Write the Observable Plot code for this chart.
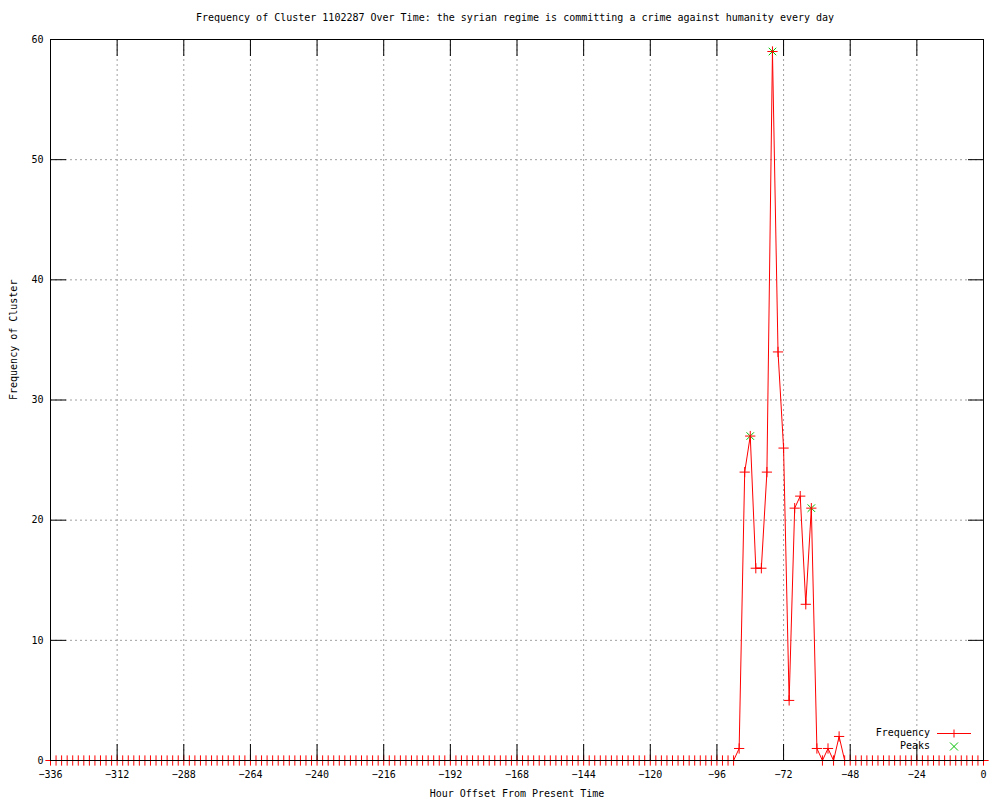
<!DOCTYPE html>
<html>
<head>
<meta charset="utf-8">
<script src="https://cdn.jsdelivr.net/npm/d3@7"></script>
<script src="https://cdn.jsdelivr.net/npm/@observablehq/plot@0.6"></script>
<style>
  html, body { margin: 0; padding: 0; background: #fff; }
  #wrap { position: relative; width: 1000px; height: 800px; font-family: "DejaVu Sans Mono", monospace; font-size: 10px; color: #000; }
  #title { height: 30px; box-sizing: border-box; padding-top: 12px; padding-left: 30px; line-height: 12px; text-align: center; white-space: nowrap; }
  .leg { position: absolute; line-height: 12px; white-space: nowrap; }
  .legtxt { left: 800px; width: 130px; text-align: right; }
</style>
</head>
<body>
<div id="wrap">
  <div id="title"></div>
  <div id="chart"></div>
  <div class="leg legtxt" id="leg1" style="top:727px;"></div>
  <svg class="leg" style="left:936px; top:727px;" width="36" height="12">
    <line x1="1" x2="35" y1="6.5" y2="6.5" stroke="#ff0000" stroke-width="1"/>
    <line x1="18" x2="18" y1="2.5" y2="10.5" stroke="#ff0000" stroke-width="1"/>
  </svg>
  <div class="leg legtxt" id="leg2" style="top:740px;"></div>
  <svg class="leg" style="left:948px; top:740px;" width="12" height="12">
    <line x1="2" x2="10" y1="2.5" y2="10.5" stroke="#00c000" stroke-width="1"/>
    <line x1="2" x2="10" y1="10.5" y2="2.5" stroke="#00c000" stroke-width="1"/>
  </svg>
</div>
<script>
const titleText = "Frequency of Cluster 1102287 Over Time: the syrian regime is committing a crime against humanity every day";
const xLabel = "Hour Offset From Present Time";
const yLabel = "Frequency of Cluster";
const seriesNames = ["Frequency", "Peaks"];

// hour offsets (every 2 hours)
const hours = d3.range(-336, 1, 2);

// frequency per 2-hour bin, from -336 to 0
const counts = [
  0,0,0,0,0,0,0,0,0,0,0,0,   // -336 .. -314
  0,0,0,0,0,0,0,0,0,0,0,0,   // -312 .. -290
  0,0,0,0,0,0,0,0,0,0,0,0,   // -288 .. -266
  0,0,0,0,0,0,0,0,0,0,0,0,   // -264 .. -242
  0,0,0,0,0,0,0,0,0,0,0,0,   // -240 .. -218
  0,0,0,0,0,0,0,0,0,0,0,0,   // -216 .. -194
  0,0,0,0,0,0,0,0,0,0,0,0,   // -192 .. -170
  0,0,0,0,0,0,0,0,0,0,0,0,   // -168 .. -146
  0,0,0,0,0,0,0,0,0,0,0,0,   // -144 .. -122
  0,0,0,0,0,0,0,0,0,0,0,0,   // -120 .. -98
  0,0,0,0,1,24,27,16,16,24,59,34,   // -96 .. -74
  26,5,21,22,13,21,1,0,1,0,2,0,     // -72 .. -50
  0,0,0,0,0,0,0,0,0,0,0,0,   // -48 .. -26
  0,0,0,0,0,0,0,0,0,0,0,0,   // -24 .. -2
  0                          // 0
];

const peakHours = [-84, -76, -62];
const peakValues = [27, 59, 21];

const xTicks = [-336, -312, -288, -264, -240, -216, -192, -168, -144, -120, -96, -72, -48, -24, 0];
const yTicks = [0, 10, 20, 30, 40, 50, 60];

const data = hours.map((h, i) => ({hour: h, count: counts[i]}));
const peaks = peakHours.map((h, i) => ({hour: h, count: peakValues[i]}));

document.getElementById("title").textContent = titleText;
document.getElementById("leg1").textContent = seriesNames[0];
document.getElementById("leg2").textContent = seriesNames[1];

const gridStyle = {stroke: "#a0a0a0", strokeOpacity: 1, strokeWidth: 1, strokeDasharray: "2,3"};

const chart = Plot.plot({
  width: 1000,
  height: 770,
  marginTop: 9,
  marginBottom: 40,
  marginLeft: 50,
  marginRight: 17,
  style: {fontFamily: "DejaVu Sans Mono, monospace", fontSize: "10px", color: "#000", background: "#fff", overflow: "visible"},
  x: {domain: [-336, 0], label: null},
  y: {domain: [0, 60], label: null},
  marks: [
    Plot.gridX(xTicks, gridStyle),
    Plot.gridY(yTicks, gridStyle),
    Plot.line(data, {x: "hour", y: "count", stroke: "#ff0000", strokeWidth: 1}),
    Plot.dot(peaks, {x: "hour", y: "count", symbol: "times", r: 3.5, stroke: "#00c000", strokeWidth: 1}),
    Plot.dot(data, {x: "hour", y: "count", symbol: "plus", r: 3.4, stroke: "#ff0000", strokeWidth: 1}),
    Plot.frame({stroke: "#000", strokeWidth: 1}),
    Plot.axisX(xTicks, {anchor: "bottom", tickSize: -16, tickPadding: 26.5, label: null, stroke: "#000", fill: "#000"}),
    Plot.axisX(xTicks, {anchor: "top", tickSize: -16, tickFormat: () => null, label: null, stroke: "#000"}),
    Plot.axisY(yTicks, {anchor: "left", tickSize: -16, tickPadding: 23, label: null, stroke: "#000", fill: "#000"}),
    Plot.axisY(yTicks, {anchor: "right", tickSize: -16, tickFormat: () => null, label: null, stroke: "#000"}),
    Plot.text([xLabel], {frameAnchor: "bottom", dy: 33, lineAnchor: "middle", fill: "#000"}),
    Plot.text([yLabel], {frameAnchor: "left", dx: -37, rotate: -90, lineAnchor: "middle", fill: "#000"})
  ]
});
document.getElementById("chart").appendChild(chart);
</script>
</body>
</html>
